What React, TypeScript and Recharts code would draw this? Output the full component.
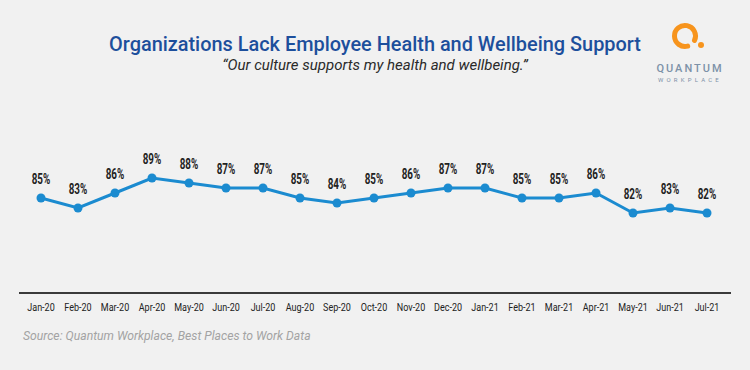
import React from 'react';
import { LabelList, Line, LineChart, XAxis, YAxis } from 'recharts';

const months = [
  'Jan-20', 'Feb-20', 'Mar-20', 'Apr-20', 'May-20', 'Jun-20', 'Jul-20', 'Aug-20', 'Sep-20', 'Oct-20',
  'Nov-20', 'Dec-20', 'Jan-21', 'Feb-21', 'Mar-21', 'Apr-21', 'May-21', 'Jun-21', 'Jul-21',
];
const support = [85, 83, 86, 89, 88, 87, 87, 85, 84, 85, 86, 87, 87, 85, 85, 86, 82, 83, 82];

const data = months.map((month, i) => ({ month, value: support[i] }));

const lineColor = '#1b8bd0';
const titleColor = '#1d4f9c';

// no condensed font installed, so squeeze Roboto horizontally
function PctLabel(props: any) {
  const { x, y, value } = props;
  return (
    <g transform={`translate(${x},${y - 14}) scale(0.68,1)`}>
      <text x={0} y={0} textAnchor="middle" fontFamily="Roboto, sans-serif" fontWeight={700} fontSize={14.5} fill="#222">
        {`${value}%`}
      </text>
    </g>
  );
}

function MonthTick(props: any) {
  const { x, y, payload } = props;
  return (
    <g transform={`translate(${x},${y}) scale(0.82,1)`}>
      <text x={0} y={0} dy="0.71em" textAnchor="middle" fontFamily="Roboto, sans-serif" fontSize={11} fill="#222">
        {payload.value}
      </text>
    </g>
  );
}

function Logo() {
  return (
    <div style={{ position: 'absolute', left: 645, top: 18, width: 90, height: 70 }}>
      <svg width={90} height={70}>
        <path d="M 42.7 28.1 A 10.5 10.5 0 1 1 49.5 22.4" fill="none" stroke="#f7941d" strokeWidth={5} strokeLinecap="round" />
        <circle cx={56} cy={27} r={3} fill="#f7941d" />
        <text x={45} y={54} textAnchor="middle" fontFamily="Roboto, sans-serif" fontSize={11} fontWeight={500} letterSpacing={2} fill="#7d92a8">
          QUANTUM
        </text>
        <text x={45} y={64} textAnchor="middle" fontFamily="Roboto, sans-serif" fontSize={6} letterSpacing={3.2} fill="#7d92a8">
          WORKPLACE
        </text>
      </svg>
    </div>
  );
}

export default function App() {
  return (
    <div style={{ position: 'relative', width: 750, height: 370, background: '#f1f1f1', overflow: 'hidden' }}>
      <style>{'body{margin:0}'}</style>
      <div
        style={{
          position: 'absolute',
          top: 32,
          left: 0,
          width: 750,
          textAlign: 'center',
          fontFamily: 'Roboto, sans-serif',
          fontWeight: 500,
          fontSize: 19.9,
          color: titleColor,
          lineHeight: '26px',
        }}
      >
        Organizations Lack Employee Health and Wellbeing Support
      </div>
      <div
        style={{
          position: 'absolute',
          top: 55,
          left: 0,
          width: 750,
          textAlign: 'center',
          fontFamily: 'Roboto, sans-serif',
          fontStyle: 'italic',
          fontSize: 15,
          color: '#2a2a2a',
          lineHeight: '20px',
        }}
      >
        “Our culture supports my health and wellbeing.”
      </div>
      <Logo />
      <div style={{ position: 'absolute', top: 0, left: 0 }}>
        <LineChart width={750} height={370} data={data} margin={{ top: 123, right: 19, bottom: 47, left: 19 }}>
          <XAxis
            dataKey="month"
            interval={0}
            height={30}
            padding={{ left: 22, right: 24 }}
            axisLine={{ stroke: '#3a3a3a', strokeWidth: 2 }}
            tickLine={false}
            tickSize={0}
            tickMargin={10}
            tick={<MonthTick />}
          />
          <YAxis hide domain={[66, 100]} />
          <Line
            dataKey="value"
            stroke={lineColor}
            strokeWidth={3}
            dot={{ r: 4.5, fill: lineColor, stroke: lineColor, strokeWidth: 0 }}
            isAnimationActive={false}
          >
            <LabelList dataKey="value" content={PctLabel} />
          </Line>
        </LineChart>
      </div>
      <div
        style={{
          position: 'absolute',
          top: 328,
          left: 23,
          fontFamily: 'Roboto, sans-serif',
          fontStyle: 'italic',
          fontSize: 12.2,
          color: '#a3a3a3',
          lineHeight: '16px',
        }}
      >
        Source: Quantum Workplace, Best Places to Work Data
      </div>
    </div>
  );
}
